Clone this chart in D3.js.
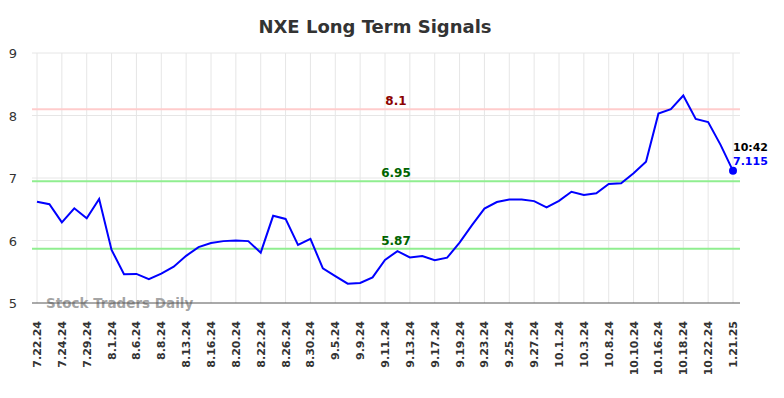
<!DOCTYPE html>
<html>
<head>
<meta charset="utf-8">
<script src="https://cdn.jsdelivr.net/npm/d3@7"></script>
<style>
  html, body { margin: 0; padding: 0; background: #fff; }
  svg { display: block; font-family: "DejaVu Sans", sans-serif; }
</style>
</head>
<body>
<svg id="chart" width="784" height="398"></svg>
<script>
const tickLabels = ["7.22.24","7.24.24","7.29.24","8.1.24","8.6.24","8.8.24","8.13.24","8.16.24","8.20.24","8.22.24","8.26.24","8.30.24","9.5.24","9.9.24","9.11.24","9.13.24","9.17.24","9.19.24","9.23.24","9.25.24","9.27.24","10.1.24","10.3.24","10.8.24","10.10.24","10.16.24","10.18.24","10.22.24","1.21.25"];
const values = [6.62,6.58,6.29,6.515,6.355,6.665,5.85,5.46,5.465,5.38,5.47,5.58,5.755,5.895,5.96,5.99,6.0,5.99,5.805,6.395,6.345,5.93,6.025,5.555,5.43,5.31,5.32,5.41,5.69,5.83,5.73,5.75,5.685,5.725,5.965,6.245,6.51,6.615,6.655,6.655,6.63,6.53,6.635,6.78,6.73,6.755,6.905,6.915,7.075,7.26,8.03,8.1,8.32,7.945,7.895,7.53,7.115];
const yTicks = [5,6,7,8,9];
const refLines = [
  {value: 8.1, label: "8.1", line: "#ffcccc", text: "#8b0000"},
  {value: 6.95, label: "6.95", line: "#90ee90", text: "#006400"},
  {value: 5.87, label: "5.87", line: "#90ee90", text: "#006400"}
];
const lastTime = "10:42";
const lastLabel = "7.115";
const title = "NXE Long Term Signals";

const svg = d3.select("#chart");
const pLeft = 32, pRight = 740, pTop = 53, pBottom = 303;
const x = d3.scaleLinear().domain([0, values.length - 1]).range([37, 733]);
const y = d3.scaleLinear().domain([5, 9]).range([pBottom, pTop]);
const tickIdx = tickLabels.map((d, i) => Math.min(i * 2, values.length - 1));

// title
svg.append("text").attr("x", 375).attr("y", 33).attr("text-anchor", "middle")
  .attr("font-size", 18).attr("font-weight", "bold").attr("fill", "#333").text(title);

// horizontal grid
svg.append("g").selectAll("line").data(yTicks.filter(d => d !== 5)).join("line")
  .attr("x1", pLeft).attr("x2", pRight).attr("y1", d => y(d)).attr("y2", d => y(d))
  .attr("stroke", "#e6e6e6").attr("stroke-width", 1);
// vertical grid
svg.append("g").selectAll("line").data(tickIdx).join("line")
  .attr("x1", d => x(d)).attr("x2", d => x(d)).attr("y1", pTop).attr("y2", pBottom)
  .attr("stroke", "#e6e6e6").attr("stroke-width", 1);

// y labels
svg.append("g").selectAll("text").data(yTicks).join("text")
  .attr("x", 13).attr("y", d => y(d) + 5).attr("text-anchor", "middle")
  .attr("font-size", 13).attr("fill", "#333").text(d => d);

// x labels
svg.append("g").selectAll("text").data(tickIdx).join("text")
  .attr("transform", d => `translate(${x(d) + 4},${pBottom + 18}) rotate(-90)`)
  .attr("text-anchor", "end").attr("font-size", 11).attr("font-weight", "bold").attr("fill", "#333")
  .text((d, i) => tickLabels[i]);

// watermark
svg.append("text").attr("x", 46).attr("y", 308).attr("font-size", 13.5).attr("font-weight", "bold")
  .attr("fill", "#999").attr("fill-opacity", 0.9).text("Stock Traders Daily");

// bottom axis line
svg.append("line").attr("x1", pLeft).attr("x2", pRight).attr("y1", pBottom).attr("y2", pBottom)
  .attr("stroke", "#555").attr("stroke-width", 1);

// reference lines
refLines.forEach(r => {
  svg.append("line").attr("x1", pLeft).attr("x2", pRight).attr("y1", y(r.value)).attr("y2", y(r.value))
    .attr("stroke", r.line).attr("stroke-width", 2);
  svg.append("text").attr("x", 396).attr("y", y(r.value) - 4).attr("text-anchor", "middle")
    .attr("font-size", 12).attr("font-weight", "bold").attr("fill", r.text).text(r.label);
});

// series line
svg.append("path").datum(values)
  .attr("d", d3.line().x((d, i) => x(i)).y(d => y(d)))
  .attr("fill", "none").attr("stroke", "#0000ff").attr("stroke-width", 2);

// last point
const li = values.length - 1;
svg.append("circle").attr("cx", x(li)).attr("cy", y(values[li])).attr("r", 4).attr("fill", "#0000ff");
svg.append("text").attr("x", x(li)).attr("y", y(values[li]) - 20).attr("font-size", 11)
  .attr("font-weight", "bold").attr("fill", "#000").text(lastTime);
svg.append("text").attr("x", x(li)).attr("y", y(values[li]) - 6).attr("font-size", 11)
  .attr("font-weight", "bold").attr("fill", "#0000ff").text(lastLabel);
</script>
</body>
</html>
